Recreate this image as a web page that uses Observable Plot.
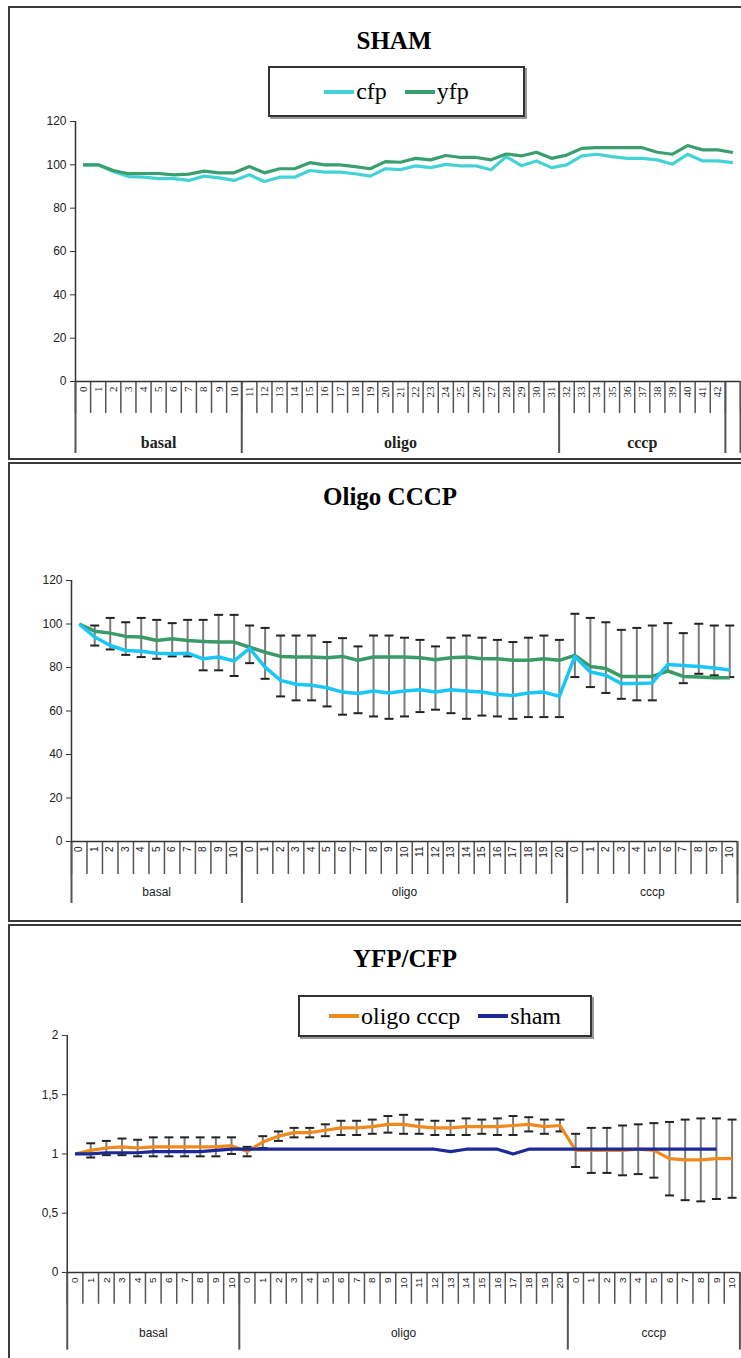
<!DOCTYPE html>
<html><head><meta charset="utf-8">
<script src="https://cdn.jsdelivr.net/npm/d3@7"></script>
<script src="https://cdn.jsdelivr.net/npm/@observablehq/plot@0.6"></script>
<style>
body{margin:0;background:#fff;width:741px;height:1358px;overflow:hidden;position:relative;}
.panel{position:absolute;border:2px solid #3a3a3a;box-sizing:border-box;}
.title{position:absolute;font-family:"Liberation Serif",serif;font-weight:bold;font-size:25px;transform:translateX(-50%);white-space:nowrap;line-height:1;}
.legend{position:absolute;border:2px solid #333;box-shadow:2px 2px 0 #999;box-sizing:border-box;font-family:"Liberation Serif",serif;font-size:24px;display:flex;align-items:center;justify-content:center;background:#fff;}
.legend .item{display:flex;align-items:center;margin:0 9px;}
.legend .sw{display:inline-block;width:30px;height:4px;margin-right:2px;}
.chart{position:absolute;left:0;}
</style></head>
<body>
<div class="panel" style="left:8px;top:6px;width:740px;height:454px"></div>
<div class="panel" style="left:8px;top:462px;width:740px;height:460px"></div>
<div class="panel" style="left:8px;top:924px;width:740px;height:440px"></div>
<div class="title" style="left:394px;top:28px">SHAM</div>
<div class="title" style="left:390px;top:484px">Oligo CCCP</div>
<div class="title" style="left:405px;top:946px">YFP/CFP</div>
<div id="leg1" class="legend" style="left:268px;top:66px;width:257px;height:51px"></div>
<div id="leg3" class="legend" style="left:298px;top:995px;width:294px;height:42px"></div>
<div id="c1" class="chart" style="top:100px"></div>
<div id="c2" class="chart" style="top:560px"></div>
<div id="c3" class="chart" style="top:1020px"></div>
<script>
// ---------- DATA ----------
// SHAM panel
const shamLabels = ["0","1","2","3","4","5","6","7","8","9","10","11","12","13","14","15","16","17","18","19","20","21","22","23","24","25","26","27","28","29","30","31","32","33","34","35","36","37","38","39","40","41","42",""];
const shamGroups = ["basal","oligo","cccp"];
const shamGroupSizes = [11, 21, 11];
const shamCfp = [100,100,96.9,94.6,94.3,93.6,93.6,92.8,94.8,94,92.8,95.4,92.3,94.3,94.3,97.4,96.6,96.6,95.9,94.8,98.2,97.8,99.5,98.7,100.2,99.5,99.5,97.7,103.8,99.6,101.8,98.7,100,104.1,104.9,103.8,103,103,102.3,100.3,104.9,101.8,101.8,101];
const shamYfp = [100,100,97.4,95.9,96,96,95.4,95.7,97.1,96.3,96.3,99.2,96.3,98.2,98.2,101,100,100,99.2,98.2,101.5,101.2,103,102.3,104.3,103.4,103.4,102.3,105,104.1,105.8,103,104.5,107.6,107.9,107.9,107.9,107.9,105.8,104.9,108.9,106.9,106.9,105.7];
const shamYTicks = [0,20,40,60,80,100,120];

// Oligo CCCP panel
const ocLabels = ["0","1","2","3","4","5","6","7","8","9","10",
  "0","1","2","3","4","5","6","7","8","9","10","11","12","13","14","15","16","17","18","19","20",
  "0","1","2","3","4","5","6","7","8","9","10"];
const ocGroups = ["basal","oligo","cccp"];
const ocGroupSizes = [11, 21, 11];
const ocCfp = [100,94.0,90.1,87.8,87.5,86.6,86.3,86.6,84.0,84.8,83.0,88.8,80.2,74.1,72.3,71.8,70.7,68.7,68.0,69.2,68.3,69.2,69.8,68.7,69.8,69.2,68.7,67.6,67.1,68.3,68.7,66.7,85.1,77.9,76.4,72.6,72.6,72.9,81.4,80.9,80.5,79.8,78.9];
const ocYfp = [100,96.7,95.8,94.3,94.0,92.4,93.2,92.4,92.0,91.7,91.7,89.3,87.0,85.1,84.8,84.8,84.5,85.1,83.3,84.8,84.8,84.8,84.5,83.6,84.5,84.8,84.0,84.0,83.3,83.3,84.0,83.3,85.6,80.5,79.5,75.9,75.9,75.9,78.4,75.9,75.6,75.3,75.3];
const ocYfpErr = [0,2.6,7.0,6.5,8.8,9.5,7.2,9.5,9.9,12.5,12.5,10.0,11.2,9.6,9.9,9.9,7.2,8.4,6.4,9.9,9.9,8.9,8.2,6.1,9.2,9.9,9.7,8.7,8.4,10.4,10.7,9.4,19.1,22.3,21.3,21.4,22.3,23.4,22.0,19.9,24.5,24.0,24.0];
const ocCfpErr = [0,3.9,1.8,2.0,2.7,2.6,1.2,1.5,5.3,6.1,6.9,6.8,5.4,7.4,7.4,6.9,8.6,10.4,9.0,11.7,11.9,11.7,10.3,8.1,10.8,12.8,10.8,10.1,10.7,11.1,11.5,9.5,9.5,6.9,8.1,7.0,7.7,8.0,3.3,8.1,3.4,3.4,3.3];
const ocYTicks = [0,20,40,60,80,100,120];

// YFP/CFP panel
const ratioLabels = ocLabels;
const ratioGroups = ["basal","oligo","cccp"];
const ratioGroupSizes = [11, 21, 11];
const ratioOligo = [1.0,1.03,1.05,1.06,1.05,1.06,1.06,1.06,1.06,1.06,1.07,1.02,1.10,1.15,1.18,1.18,1.20,1.22,1.22,1.23,1.25,1.25,1.23,1.22,1.22,1.23,1.23,1.23,1.24,1.25,1.23,1.24,1.03,1.03,1.03,1.03,1.04,1.03,0.96,0.95,0.95,0.96,0.96];
const ratioOligoErr = [0,0.06,0.06,0.07,0.07,0.08,0.08,0.08,0.08,0.08,0.07,0.04,0.05,0.04,0.04,0.04,0.05,0.06,0.06,0.06,0.07,0.08,0.06,0.06,0.06,0.07,0.06,0.07,0.08,0.06,0.06,0.05,0.14,0.19,0.19,0.21,0.21,0.23,0.31,0.34,0.35,0.34,0.33];
const ratioSham = [1.0,1.0,1.01,1.01,1.01,1.02,1.02,1.02,1.02,1.03,1.04,1.04,1.04,1.04,1.04,1.04,1.04,1.04,1.04,1.04,1.04,1.04,1.04,1.04,1.02,1.04,1.04,1.04,1.0,1.04,1.04,1.04,1.04,1.04,1.04,1.04,1.04,1.04,1.04,1.04,1.04,1.04,null];
const ratioYTicks = [0,0.5,1,1.5,2];

// ---------- COLORS ----------
const C = {shamCfp:"#45d2d6", shamYfp:"#3a9f6f", ocCfp:"#1ac6f6", ocYfp:"#3b9b68", orange:"#f08a1c", navy:"#1b2a98", err:"#7a7a7a", cap:"#222", axis:"#333"};

// ---------- CHART BUILDER ----------
const capSymbol = {draw(ctx){ ctx.moveTo(-4.5,0); ctx.lineTo(4.5,0); }};

function makeChart(cfg){
  const n = cfg.labels.length;
  const centers = d3.range(n).map(i => i + 0.5);
  const bounds = d3.range(n + 1);
  const starts = []; let acc = 0;
  cfg.groupSizes.forEach(s => { starts.push(acc); acc += s; });
  const gBounds = Array.from(new Set([...starts, acc, n]));
  const gCenters = starts.map((s,k) => s + cfg.groupSizes[k]/2);
  const marks = [];
  marks.push(Plot.axisY(cfg.yTicks, {tickSize:5, tickPadding:4, tickFormat: cfg.yFormat, fontSize:12, fontFamily:"Liberation Sans", stroke:C.axis, fill:"#222", label:null}));
  marks.push(Plot.axisX(bounds, {tickSize: cfg.tickLen, tickFormat: () => "", stroke:"#555", strokeWidth:1.5, label:null}));
  marks.push(Plot.axisX(gBounds, {tickSize: cfg.groupTickLen, tickFormat: () => "", stroke:"#555", strokeWidth:2, label:null}));
  marks.push(Plot.axisX(centers, {tickSize:0, tickPadding: cfg.labelPad, tickRotate:-90, tickFormat: d => cfg.labels[Math.floor(d)], fontSize: cfg.labelSize, fontFamily: cfg.labelFont, fill:"#222", label:null}));
  marks.push(Plot.axisX(gCenters, {tickSize:0, tickPadding: cfg.groupPad, tickFormat: d => cfg.groups[gCenters.indexOf(d)], fontSize: cfg.groupSize, fontFamily: cfg.groupFont, fontWeight: cfg.groupWeight, fill:"#222", label:null}));
  marks.push(Plot.ruleX([0], {stroke:C.axis, strokeWidth:1.5}));
  marks.push(Plot.ruleY([cfg.yDomain[0]], {stroke:C.axis, strokeWidth:1.5}));
  if (cfg.errors){
    const e = cfg.errors.filter(d => d.hi > d.lo);
    marks.push(Plot.ruleX(e, {x: d => d.i + 0.5, y1: "lo", y2: "hi", stroke:C.err, strokeWidth:2}));
    marks.push(Plot.dot(e, {x: d => d.i + 0.5, y: "hi", symbol: capSymbol, stroke:C.cap, strokeWidth:2, fill:"none"}));
    marks.push(Plot.dot(e, {x: d => d.i + 0.5, y: "lo", symbol: capSymbol, stroke:C.cap, strokeWidth:2, fill:"none"}));
  }
  cfg.series.forEach(s => {
    const pts = s.values.map((v,i) => ({i, v})).filter(d => d.v != null);
    marks.push(Plot.lineY(pts, {x: d => d.i + 0.5, y: "v", stroke: s.color, strokeWidth: s.width, strokeLinejoin:"round", strokeLinecap:"butt"}));
  });
  return Plot.plot({
    width: cfg.width, height: cfg.height,
    marginLeft: cfg.ml, marginRight: cfg.mr, marginTop: cfg.mt, marginBottom: cfg.mb,
    x: {type:"linear", domain:[0, n], label:null},
    y: {domain: cfg.yDomain, label:null},
    style: {background:"transparent", overflow:"visible"},
    marks
  });
}

document.getElementById("c1").appendChild(makeChart({
  width:741, height:360, ml:75, mr:1, mt:21, mb:79,
  labels: shamLabels, groups: shamGroups, groupSizes: shamGroupSizes,
  yDomain:[0,120], yTicks: shamYTicks, yFormat: d => String(d),
  tickLen:32, groupTickLen:72, labelPad:5, labelSize:11, labelFont:"Liberation Serif",
  groupPad:55, groupSize:16, groupFont:"Liberation Serif", groupWeight:"bold",
  series:[{values: shamCfp, color:C.shamCfp, width:3.2},{values: shamYfp, color:C.shamYfp, width:3.2}]
}));

document.getElementById("c2").appendChild(makeChart({
  width:741, height:360, ml:71, mr:4, mt:20, mb:79,
  labels: ocLabels, groups: ocGroups, groupSizes: ocGroupSizes,
  yDomain:[0,120], yTicks: ocYTicks, yFormat: d => String(d),
  tickLen:33, groupTickLen:62, labelPad:5, labelSize:10, labelFont:"Liberation Sans",
  groupPad:46, groupSize:12, groupFont:"Liberation Sans", groupWeight:"normal",
  errors: ocCfp.map((c,i) => ({i, lo: c - ocCfpErr[i], hi: ocYfp[i] + ocYfpErr[i]})),
  series:[{values: ocYfp, color:C.ocYfp, width:3.5},{values: ocCfp, color:C.ocCfp, width:3.5}]
}));

document.getElementById("c3").appendChild(makeChart({
  width:744, height:338, ml:67, mr:1.6, mt:15, mb:85,
  labels: ratioLabels, groups: ratioGroups, groupSizes: ratioGroupSizes,
  yDomain:[0,2], yTicks: ratioYTicks, yFormat: d => String(d).replace(".", ","),
  tickLen:32, groupTickLen:78, labelPad:5, labelSize:10, labelFont:"Liberation Sans",
  groupPad:56, groupSize:12, groupFont:"Liberation Sans", groupWeight:"normal",
  errors: ratioOligo.map((v,i) => ({i, lo: v - ratioOligoErr[i], hi: v + ratioOligoErr[i]})),
  series:[{values: ratioOligo, color:C.orange, width:3.2},{values: ratioSham, color:C.navy, width:3.2}]
}));

function legend(id, items){
  const el = document.getElementById(id);
  items.forEach(([label,color]) => {
    const it = document.createElement("span"); it.className = "item";
    const sw = document.createElement("span"); sw.className = "sw"; sw.style.background = color;
    it.appendChild(sw); it.appendChild(document.createTextNode(label));
    el.appendChild(it);
  });
}
legend("leg1", [["cfp", C.shamCfp],["yfp", C.shamYfp]]);
legend("leg3", [["oligo cccp", C.orange],["sham", C.navy]]);
</script>
</body></html>
